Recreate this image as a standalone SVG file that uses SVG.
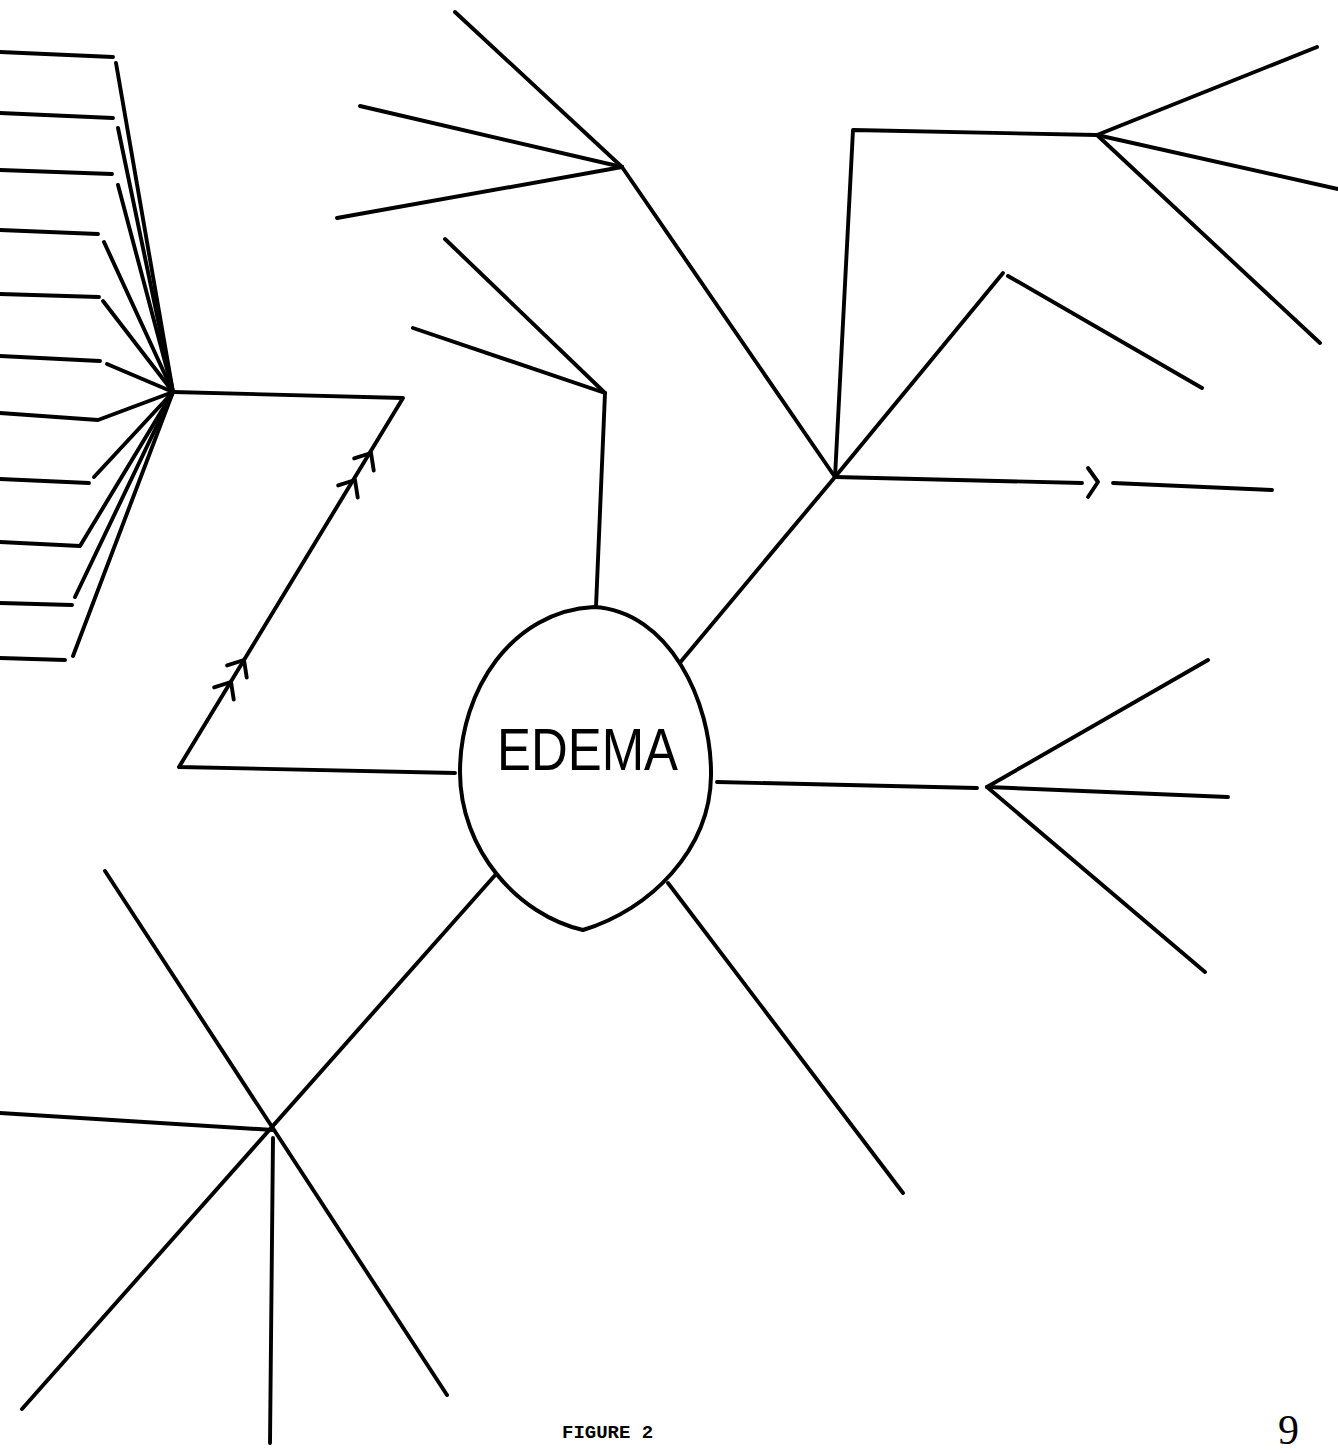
<svg xmlns="http://www.w3.org/2000/svg" xmlns:xlink="http://www.w3.org/1999/xlink" width="1338" height="1453" viewBox="0 0 1338 1453">
<style>
.ln{fill:none;stroke:#000;stroke-width:3.9;stroke-linecap:round;stroke-linejoin:round}
.node{fill:#fff;stroke:#000;stroke-width:4}
.lbl{font-family:"Liberation Sans",Arial,sans-serif;font-size:60px;fill:#000}
.cap{font-family:"Liberation Mono","Courier New",monospace;font-weight:bold;font-size:19px;fill:#000}
.pg{font-family:"Liberation Serif","Times New Roman",serif;font-size:42px;fill:#000}
</style>
<defs>
<path id="chev" class="ln" d="M -13.5 -11.5 L 0 0 L -13.5 11.5"/>
</defs>
<rect width="1338" height="1453" fill="#fff"/>
<g id="connectors">
<path class="ln" d="M 0 52 L 113 57"/>
<path class="ln" d="M 116 63 L 173 392"/>
<path class="ln" d="M 0 113 L 113 118"/>
<path class="ln" d="M 118 128 L 173 392"/>
<path class="ln" d="M 0 170 L 112 174"/>
<path class="ln" d="M 118 185 L 173 392"/>
<path class="ln" d="M 0 230 L 98 234"/>
<path class="ln" d="M 104 242 L 173 392"/>
<path class="ln" d="M 0 294 L 99 297"/>
<path class="ln" d="M 103 301 L 173 392"/>
<path class="ln" d="M 0 356 L 100 361"/>
<path class="ln" d="M 107 364 L 173 392"/>
<path class="ln" d="M 0 413 L 98 420 L 173 392"/>
<path class="ln" d="M 0 479 L 89 483"/>
<path class="ln" d="M 94 477 L 173 392"/>
<path class="ln" d="M 0 542 L 80 546 L 173 392"/>
<path class="ln" d="M 0 603 L 72 605"/>
<path class="ln" d="M 75 597 L 173 392"/>
<path class="ln" d="M 0 658 L 65 660"/>
<path class="ln" d="M 73 656 L 173 392"/>
<path class="ln" d="M 173 392 L 403 398 L 179 767 L 455 773"/>
<use href="#chev" xlink:href="#chev" transform="translate(371,453) rotate(-58.4)"/>
<use href="#chev" xlink:href="#chev" transform="translate(355,480) rotate(-58.4)"/>
<use href="#chev" xlink:href="#chev" transform="translate(244,660) rotate(-58.4)"/>
<use href="#chev" xlink:href="#chev" transform="translate(231,682) rotate(-58.4)"/>
<path class="ln" d="M 596 607 L 605 393"/>
<path class="ln" d="M 445 239 L 605 393"/>
<path class="ln" d="M 413 328 L 605 393"/>
<path class="ln" d="M 678 665 L 835 477"/>
<path class="ln" d="M 835 477 L 622 167"/>
<path class="ln" d="M 455 12 L 622 167"/>
<path class="ln" d="M 360 106 L 622 167"/>
<path class="ln" d="M 337 218 L 622 167"/>
<path class="ln" d="M 835 477 L 853 130 L 1097 135"/>
<path class="ln" d="M 1097 135 L 1317 47"/>
<path class="ln" d="M 1097 135 L 1338 189"/>
<path class="ln" d="M 1097 135 L 1320 343"/>
<path class="ln" d="M 835 477 L 1003 273"/>
<path class="ln" d="M 1008 276 L 1202 388"/>
<path class="ln" d="M 835 477 L 1082 483"/>
<path class="ln" d="M 1088 468 L 1098 482 L 1088 497"/>
<path class="ln" d="M 1113 483 L 1272 490"/>
<path class="ln" d="M 717 782 L 977 788"/>
<path class="ln" d="M 987 787 L 1208 660"/>
<path class="ln" d="M 987 787 L 1228 797"/>
<path class="ln" d="M 987 787 L 1205 972"/>
<path class="ln" d="M 668 883 L 903 1193"/>
<path class="ln" d="M 497 873 L 22 1409"/>
<path class="ln" d="M 105 871 L 447 1395"/>
<path class="ln" d="M 0 1113 L 273 1130"/>
<path class="ln" d="M 273 1138 L 270 1443"/>
</g>
<g id="edema">
<path class="node" d="M 594 607 C 668 611 712 700 711 776 C 710 850 650 910 583 930 C 518 915 460 850 460 772 C 460 690 512 611 594 607 Z"/>
<text class="lbl" x="497" y="770" textLength="181" lengthAdjust="spacingAndGlyphs">EDEMA</text>
</g>
<g id="caption">
<text class="cap" x="562" y="1438">FIGURE 2</text>
</g>
<g id="page-number">
<text class="pg" x="1278" y="1444">9</text>
</g>
</svg>
